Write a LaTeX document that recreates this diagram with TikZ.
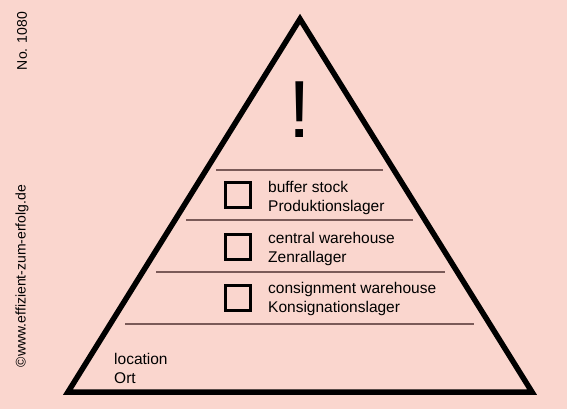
\documentclass[tikz,border=0pt]{standalone}
\usepackage{fontspec}
\setmainfont{Liberation Sans}
\definecolor{bgpink}{RGB}{250,214,206}
\definecolor{rulebrown}{RGB}{122,90,88}
\tikzset{
	entry/.style={anchor=base west,align=left,inner sep=0pt,font=\fontsize{15.5}{19}\selectfont},
	tickbox/.style={draw,line width=3pt,minimum size=25pt,inner sep=0pt},
	divider/.style={draw=rulebrown,line width=2pt},
	margin/.style={rotate=90,inner sep=0pt,font=\fontsize{14}{14}\selectfont},
}
\begin{document}
\begin{tikzpicture}[x=1pt,y=-1pt]
					\useasboundingbox[fill=bgpink] (0,0) rectangle (567,409);
					\coordinate (A) at (300,19);
					\coordinate (B) at (68,392);
					\coordinate (C) at (532,392);
					\draw[line width=5.5pt,line join=miter] (A) -- (B) -- (C) -- cycle;

					\node[anchor=base,inner sep=0pt,font=\fontsize{81}{81}\selectfont] (X) at (299.5,137) {!};

					\draw[divider] (216,170) -- (383,170);
					\draw[divider] (186,220) -- (413,220);
					\draw[divider] (156,272) -- (445,272);
					\draw[divider] (125,324) -- (474,324);

					\node[tickbox] (K1) at (237.5,194.5) {};
					\node[tickbox] (K2) at (237.5,246.5) {};
					\node[tickbox] (K3) at (237.5,297.5) {};

					\node[entry] (E1) at (268,211) {buffer stock\\Produktionslager};
					\node[entry] (E2) at (268,262) {central warehouse\\Zenrallager};
					\node[entry] (E3) at (268,312) {consignment warehouse\\Konsignationslager};
					\node[entry] (E4) at (114,383) {location\\Ort};

					\node[margin] (N) at (22,41) {No. 1080};
					\node[margin] (W) at (22,276) {©www.effizient-zum-erfolg.de};
				\end{tikzpicture}
\end{document}
